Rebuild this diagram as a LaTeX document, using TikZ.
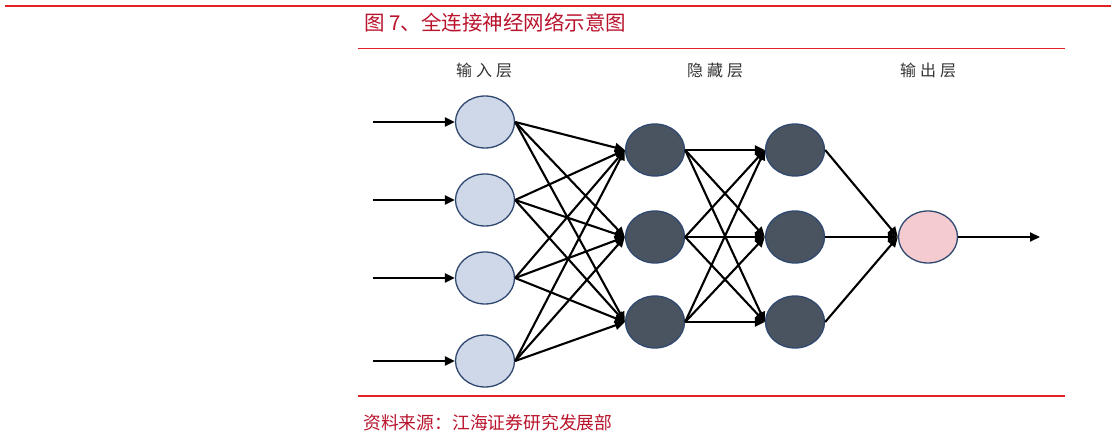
\documentclass[tikz,border=0pt]{standalone}
\usepackage{fontspec}
\newfontfamily\cjk{Noto Sans CJK SC}
\usetikzlibrary{shapes.geometric,arrows.meta}
\definecolor{titlered}{RGB}{185,20,45}
\definecolor{rulered}{RGB}{225,35,40}
\definecolor{inblue}{RGB}{207,216,233}
\definecolor{hidgray}{RGB}{74,84,97}
\definecolor{outpink}{RGB}{244,204,208}
\definecolor{rimblue}{RGB}{47,72,112}
\tikzset{
  neuron/.style={ellipse,draw=rimblue,line width=1.3pt,minimum width=59pt,minimum height=52pt,inner sep=0pt},
  link/.style={line width=2.1pt,-{Triangle[length=10pt,width=9pt]}},
  layertext/.style={text=black!80,font=\cjk\fontsize{16}{16}\selectfont},
  redtext/.style={text=titlered,anchor=west,inner sep=0pt},
}
\begin{document}
\begin{tikzpicture}[x=1pt,y=-1pt]
    \useasboundingbox (0,0) rectangle (1117,438);
    % rules and captions
    \draw[rulered,line width=2.5pt] (5,6) -- (1111,6);
    \node[redtext,font=\cjk\fontsize{20.5}{20.5}\selectfont] (title) at (364,23) {图 7、全连接神经网络示意图};
    \draw[rulered,line width=1.3pt] (358,48.5) -- (1065,48.5);
    \draw[rulered,line width=1.3pt] (358,396) -- (1065,396);
    \node[redtext,font=\cjk\fontsize{17.8}{17.8}\selectfont] (source) at (363,423) {资料来源：江海证券研究发展部};
    % layer names
    \node[layertext] (inname) at (484,70) {输\hspace{4pt}入\hspace{4pt}层};
    \node[layertext] (hidname) at (715,70) {隐\hspace{4pt}藏\hspace{4pt}层};
    \node[layertext] (outname) at (928,70) {输\hspace{4pt}出\hspace{4pt}层};
    % input layer
        \node[neuron,fill=inblue] (i1) at (485,122) {};
        \node[neuron,fill=inblue] (i2) at (485,200) {};
        \node[neuron,fill=inblue] (i3) at (485,278) {};
        \node[neuron,fill=inblue] (i4) at (485,361) {};
    % hidden layers
        \node[neuron,fill=hidgray] (a1) at (655,150) {};
        \node[neuron,fill=hidgray] (a2) at (655,237) {};
        \node[neuron,fill=hidgray] (a3) at (655,322) {};
        \node[neuron,fill=hidgray] (b1) at (795,150) {};
        \node[neuron,fill=hidgray] (b2) at (795,237) {};
        \node[neuron,fill=hidgray] (b3) at (795,322) {};
    % output layer
        \node[neuron,fill=outpink] (o) at (928,237) {};
    % free ends
    \foreach \k/\y in {1/122,2/200,3/278,4/361}
        \coordinate (s\k) at (373,\y);
    \coordinate (t) at (1040,237);
    % connectors
    \foreach \k in {1,...,4}
        \draw[link] (s\k) -- (i\k.west);
    \foreach \k in {1,...,4}
        \foreach \j in {1,2,3}
            \draw[link] (i\k.east) -- (a\j.west);
    \foreach \k in {1,2,3}
        \foreach \j in {1,2,3}
            \draw[link] (a\k.east) -- (b\j.west);
    \foreach \k in {1,2,3}
        \draw[link] (b\k.east) -- (o.west);
    \draw[link] (o.east) -- (t);
\end{tikzpicture}
\end{document}
